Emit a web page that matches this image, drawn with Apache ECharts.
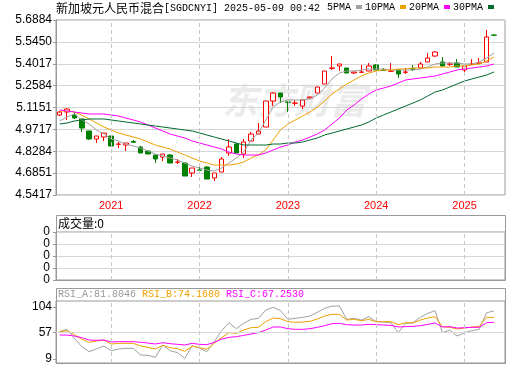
<!DOCTYPE html>
<html><head><meta charset="utf-8">
<script src="https://cdn.jsdelivr.net/npm/echarts@6/dist/echarts.min.js"></script>
<style>html,body{margin:0;padding:0;background:#fff}#c{width:520px;height:365px}</style>
</head><body><div id="c"></div>
<script>
const categories = [
 '2020-06','2020-07','2020-08','2020-09','2020-10','2020-11','2020-12',
 '2021-01','2021-02','2021-03','2021-04','2021-05','2021-06','2021-07','2021-08','2021-09','2021-10','2021-11','2021-12',
 '2022-01','2022-02','2022-03','2022-04','2022-05','2022-06','2022-07','2022-08','2022-09','2022-10','2022-11','2022-12',
 '2023-01','2023-02','2023-03','2023-04','2023-05','2023-06','2023-07','2023-08','2023-09','2023-10','2023-11','2023-12',
 '2024-01','2024-02','2024-03','2024-04','2024-05','2024-06','2024-07','2024-08','2024-09','2024-10','2024-11','2024-12',
 '2025-01','2025-02','2025-03','2025-04','2025-05',''
];
// [open, close, low, high]
const candles = [
 [5.0659,5.0855,5.0593,5.0921],[5.0855,5.1052,5.0331,5.1117],[5.0659,5.0462,5.0397,5.0855],[5.0397,4.9807,4.9545,5.0397],
 [4.9610,4.9086,4.9020,4.9610],[4.9086,4.9283,4.8824,4.9283],[4.9217,4.9479,4.8955,4.9479],[4.9283,4.8627,4.8627,4.9283],
 [4.8740,4.8758,4.8496,4.8889],[4.8693,4.8824,4.8300,4.8824],[4.8922,4.8870,4.8824,4.9020],[4.8562,4.8169,4.8169,4.8627],
 [4.8300,4.8103,4.8103,4.8300],[4.8038,4.7775,4.7513,4.8038],[4.7906,4.8103,4.7644,4.8103],[4.8038,4.7513,4.7513,4.8103],
 [4.7565,4.7579,4.7448,4.7775],[4.7513,4.6661,4.6661,4.7513],[4.6858,4.7185,4.6596,4.7185],[4.7054,4.7040,4.6923,4.7251],
 [4.7251,4.6464,4.6464,4.7317],[4.6530,4.6858,4.6333,4.6858],[4.6923,4.7775,4.6923,4.7906],[4.8169,4.8562,4.7972,4.9086],
 [4.8758,4.8169,4.8169,4.8824],[4.8103,4.8889,4.7841,4.9086],[4.8955,4.9413,4.8955,4.9545],[4.9413,4.9610,4.9413,5.0134],
 [4.9872,5.1576,4.9872,5.1576],[5.1576,5.2100,5.1248,5.2166],[5.2100,5.1838,5.1445,5.2100],[5.1511,5.1490,5.0855,5.1511],
 [5.1430,5.1445,5.1248,5.1642],[5.1248,5.1642,5.1052,5.1642],[5.1773,5.1838,5.1740,5.1870],[5.2100,5.2493,5.2100,5.2493],
 [5.2690,5.3542,5.2690,5.3542],[5.3720,5.3739,5.3608,5.4525],[5.3870,5.4001,5.3542,5.4001],[5.3739,5.3411,5.3411,5.3739],
 [5.3411,5.3476,5.3345,5.3476],[5.3460,5.3476,5.3411,5.3935],[5.3542,5.3870,5.3542,5.4066],[5.3935,5.3608,5.3608,5.4001],
 [5.3608,5.3590,5.3542,5.3739],[5.3525,5.3542,5.3476,5.4066],[5.3608,5.3345,5.3083,5.3673],[5.3460,5.3476,5.3345,5.3739],
 [5.3673,5.3655,5.3542,5.3935],[5.3739,5.4001,5.3739,5.4132],[5.4132,5.4394,5.4132,5.4721],[5.4525,5.4787,5.4459,5.4852],
 [5.4132,5.3870,5.3870,5.4459],[5.3985,5.4001,5.3870,5.4132],[5.4066,5.3804,5.3804,5.4328],[5.3608,5.3870,5.3411,5.3870],
 [5.3985,5.4001,5.3935,5.4328],[5.4050,5.4066,5.4001,5.4394],[5.4132,5.5770,5.4132,5.6229],[5.5901,5.5885,5.5870,5.5930]
];
const ma5 = [5.0266,5.0528,5.0724,5.0331,5.0069,4.9676,4.9413,4.9086,4.8955,4.8758,4.8627,4.8496,4.8300,4.8103,4.7972,4.7841,4.7710,4.7513,4.7317,4.7185,
 4.7054,4.6989,4.7185,4.7513,4.7841,4.8234,4.9020,4.9479,5.0331,5.1183,5.1511,5.1642,5.1642,5.1642,5.1707,5.1969,5.2428,5.3018,5.3411,5.3542,
 5.3542,5.3608,5.3673,5.3673,5.3673,5.3608,5.3608,5.3608,5.3608,5.3673,5.3804,5.4001,5.4066,5.4066,5.4066,5.4001,5.4001,5.4132,5.4394,5.4721];
const ma10 = [5.0921,5.0921,5.0855,5.0659,5.0397,5.0134,4.9872,4.9676,4.9479,4.9348,4.9217,4.9086,4.8889,4.8693,4.8562,4.8431,4.8234,4.8038,4.7841,4.7644,
 4.7513,4.7382,4.7382,4.7382,4.7448,4.7579,4.7841,4.8038,4.8365,4.9020,4.9676,5.0069,5.0331,5.0593,5.0855,5.1183,5.1576,5.2035,5.2362,5.2690,
 5.2952,5.3214,5.3411,5.3542,5.3608,5.3608,5.3673,5.3673,5.3739,5.3739,5.3739,5.3804,5.3804,5.3804,5.3870,5.3870,5.3935,5.4001,5.4197,5.4459];
const ma20 = [5.0986,5.0921,5.0855,5.0790,5.0724,5.0724,5.0724,5.0659,5.0593,5.0462,5.0331,5.0200,5.0003,4.9807,4.9610,4.9413,4.9283,4.9152,4.8955,4.8824,
 4.8693,4.8562,4.8431,4.8234,4.8103,4.8038,4.8038,4.8038,4.8169,4.8365,4.8562,4.8693,4.8889,4.9020,4.9217,4.9413,4.9676,5.0069,5.0462,5.0986,
 5.1314,5.1707,5.2035,5.2297,5.2428,5.2559,5.2756,5.2952,5.3018,5.3083,5.3149,5.3214,5.3345,5.3476,5.3608,5.3673,5.3739,5.3804,5.3870,5.4001];
const ma30 = [5.0069,5.0134,5.0266,5.0331,5.0397,5.0397,5.0397,5.0331,5.0266,5.0200,5.0134,5.0069,5.0003,4.9938,4.9872,4.9807,4.9741,4.9676,4.9610,4.9479,
 4.9348,4.9217,4.9086,4.8955,4.8824,4.8693,4.8693,4.8693,4.8693,4.8758,4.8758,4.8824,4.8824,4.8889,4.9020,4.9152,4.9348,4.9479,4.9610,4.9741,
 4.9872,5.0003,5.0200,5.0462,5.0659,5.0855,5.1052,5.1248,5.1445,5.1642,5.1904,5.2166,5.2297,5.2493,5.2690,5.2887,5.3018,5.3149,5.3280,5.3476];
const volumes = [0,0,0,0,0,0,0,0,0,0,0,0,0,0,0,0,0,0,0,0,0,0,0,0,0,0,0,0,0,0,0,0,0,0,0,0,0,0,0,0,0,0,0,0,0,0,0,0,0,0,0,0,0,0,0,0,0,0,0,0];
const rsiA = [59.0,63.2,46.8,31.5,22.4,27.3,32.8,24.2,27.3,28.5,28.5,16.3,15.7,12.0,34.6,24.2,20.6,10.2,33.4,28.5,
 22.4,40.7,60.8,75.4,64.4,74.2,81.5,83.3,98.5,103.4,97.3,81.5,83.3,85.1,87.6,94.3,101.6,105.8,105.8,81.5,
 83.3,80.2,86.3,77.2,76.6,75.4,57.1,74.2,75.4,85.1,92.4,97.3,57.1,62.0,51.0,57.1,60.8,63.2,93.6,96.7];
const rsiB = [59.0,60.8,53.5,45.0,39.4,41.9,43.7,36.4,37.6,37.6,37.6,32.7,30.3,27.3,34.0,29.7,27.9,23.0,32.7,29.7,
 26.7,37.6,48.0,57.1,55.9,62.0,66.2,66.9,77.2,83.9,82.7,77.2,76.0,76.6,77.8,82.1,87.6,90.6,90.6,80.2,
 81.5,79.0,81.5,77.2,77.2,77.2,71.7,75.4,74.8,80.2,83.9,86.3,68.1,66.9,63.8,65.6,67.5,68.7,85.1,85.1];
const rsiC = [52.8,52.8,51.0,48.0,43.7,43.1,43.7,40.1,40.7,40.7,40.7,39.5,38.2,36.4,38.8,37.0,35.8,34.6,37.6,35.8,
 35.2,39.5,45.5,48.6,49.8,52.2,54.7,57.1,62.0,67.5,67.5,64.4,63.2,63.2,64.4,66.9,69.9,73.6,74.2,71.7,
 71.1,71.1,72.3,71.7,71.1,70.5,67.5,68.1,68.7,69.9,72.3,74.8,67.5,68.1,65.6,66.2,66.9,66.9,75.4,76.0];
const priceTicks = [4.5417,4.6851,4.8284,4.9717,5.1151,5.2584,5.4017,5.5450,5.6884];
const rsiTicks = [9,57,104];
const volTickLabels = ['0','0','0','0','0'];
const yearTicks = ['2021-01','2022-01','2023-01','2024-01','2025-01'];
const rsiHeader = ['81.8046','74.1680','67.2530'];

const frame = '#999';
const gridLine = '#d6d6d6';
const dashLine = {type:[4,3], color:'#c8c8c8', width:1};
const yearMark = {silent:true, symbol:['none','none'], label:{show:false}, lineStyle:dashLine, animation:false,
  data: yearTicks.map(v => ({xAxis:v}))};
const numFont = 'Liberation Sans, Arial, sans-serif';
const monoFont = 'Liberation Mono, monospace';
const cnFont = 'Noto Sans CJK SC, sans-serif';

const chart = echarts.init(document.getElementById('c'));
chart.setOption({
  animation:false,
  backgroundColor:'#fff',
  title:{
    left:56, top:1, padding:0,
    text:'{cn|新加坡元人民币混合}{en|[SGDCNYI] 2025-05-09 00:42}',
    textStyle:{fontWeight:'normal', rich:{
      cn:{fontFamily:cnFont, fontSize:12, fontWeight:'normal', color:'#000', lineHeight:14},
      en:{fontFamily:monoFont, fontSize:10, fontWeight:'normal', color:'#000', lineHeight:14}
    }}
  },
  legend:{
    left:327, top:2, padding:0, align:'right', icon:'rect', itemWidth:6, itemHeight:4, itemGap:3,
    selectedMode:false,
    textStyle:{fontFamily:monoFont, fontSize:10, color:'#000'},
    data:['5PMA','10PMA','20PMA','30PMA']
  },
  grid:[
    {left:56, width:449, top:20, height:175, show:true, borderColor:frame, borderWidth:1},
    {left:56, width:449, top:232, height:48, show:true, borderColor:frame, borderWidth:1},
    {left:56, width:449, top:301, height:62, show:true, borderColor:frame, borderWidth:1}
  ],
  xAxis:[0,1,2].map(g => ({
    type:'category', gridIndex:g, data:categories, boundaryGap:true,
    axisLine:{show:false}, axisTick:{show:false}, splitLine:{show:false},
    axisLabel: g===0 ? {show:true, interval:(i,v)=>yearTicks.indexOf(v)>=0, formatter:v=>v.slice(0,4),
      color:'#ff0000', fontFamily:numFont, fontSize:11, margin:5} : {show:false}
  })),
  yAxis:[
    {type:'value', gridIndex:0, min:4.5417, max:5.6884, scale:true,
     axisLine:{show:true, lineStyle:{color:frame}},
     axisTick:{show:true, length:3, customValues:priceTicks, lineStyle:{color:frame}},
     axisLabel:{customValues:priceTicks, formatter:v=>v.toFixed(4), color:'#000', fontFamily:numFont, fontSize:12, margin:4},
     splitLine:{show:true, lineStyle:{color:gridLine}}},
    {type:'value', gridIndex:1, min:0, max:4, interval:1,
     axisLine:{show:true, lineStyle:{color:frame}},
     axisTick:{show:true, length:3, lineStyle:{color:frame}},
     axisLabel:{formatter:v=>volTickLabels[v], color:'#000', fontFamily:numFont, fontSize:12, margin:6, padding:[0,0,6,0]},
     splitLine:{show:true, lineStyle:{color:gridLine}}},
    {type:'value', gridIndex:2, min:1.7, max:115,
     axisLine:{show:true, lineStyle:{color:frame}},
     axisTick:{show:true, length:3, customValues:rsiTicks, lineStyle:{color:frame}},
     axisLabel:{customValues:rsiTicks, color:'#000', fontFamily:numFont, fontSize:12, margin:4},
     splitLine:{show:false}}
  ],
  graphic:[
    {type:'text', left:222, top:82, z:0, silent:true,
     style:{text:'东方财富', fontFamily:cnFont, fontSize:36, fontWeight:'bold', fontStyle:'italic', fill:'#ebebeb'}},
    {type:'rect', shape:{x:56.5, y:215.5, width:449, height:65}, style:{fill:'none', stroke:frame, lineWidth:1}, z:1, silent:true},
    {type:'text', left:58, top:217, silent:true, style:{text:'成交量:0', fontFamily:cnFont, fontSize:12, fill:'#000'}},
    {type:'rect', shape:{x:56.5, y:288.5, width:449, height:75}, style:{fill:'none', stroke:frame, lineWidth:1}, z:1, silent:true},
    {type:'text', left:58, top:289, silent:true, style:{
      text:'{a|RSI_A:'+rsiHeader[0]+'} {b|RSI_B:'+rsiHeader[1]+'} {c|RSI_C:'+rsiHeader[2]+'}',
      rich:{a:{fontFamily:monoFont,fontSize:10,fill:'#999999'},b:{fontFamily:monoFont,fontSize:10,fill:'#f0a000'},c:{fontFamily:monoFont,fontSize:10,fill:'#ff00ff'}},
      font:'10px Liberation Mono'}}
  ],
  series:[
    {type:'candlestick', name:'K', xAxisIndex:0, yAxisIndex:0, data:candles, barWidth:5,
     itemStyle:{color:'#ffffff', color0:'#008000', borderColor:'#ff0000', borderColor0:'#008000', borderWidth:1},
     markLine:yearMark},
    {type:'line', name:'5PMA', xAxisIndex:0, yAxisIndex:0, data:ma5, showSymbol:false, color:'#a0a0a0', lineStyle:{width:1}, z:3},
    {type:'line', name:'10PMA', xAxisIndex:0, yAxisIndex:0, data:ma10, showSymbol:false, color:'#f0a000', lineStyle:{width:1}, z:3},
    {type:'line', name:'20PMA', xAxisIndex:0, yAxisIndex:0, data:ma20, showSymbol:false, color:'#ff00ff', lineStyle:{width:1}, z:3},
    {type:'line', name:'30PMA', xAxisIndex:0, yAxisIndex:0, data:ma30, showSymbol:false, color:'#006a30', lineStyle:{width:1}, z:3},
    {type:'bar', name:'VOL', xAxisIndex:1, yAxisIndex:1, data:volumes, barWidth:5, markLine:yearMark},
    {type:'line', name:'RSI_A', xAxisIndex:2, yAxisIndex:2, data:rsiA, showSymbol:false, color:'#a0a0a0', lineStyle:{width:1},
     markLine:{silent:true, symbol:['none','none'], label:{show:false}, animation:false, lineStyle:dashLine,
       data: yearTicks.map(v=>({xAxis:v})).concat([{yAxis:57, lineStyle:{type:'solid', color:gridLine}}])}},
    {type:'line', name:'RSI_B', xAxisIndex:2, yAxisIndex:2, data:rsiB, showSymbol:false, color:'#f0a000', lineStyle:{width:1}},
    {type:'line', name:'RSI_C', xAxisIndex:2, yAxisIndex:2, data:rsiC, showSymbol:false, color:'#ff00ff', lineStyle:{width:1}}
  ]
});
</script></body></html>
